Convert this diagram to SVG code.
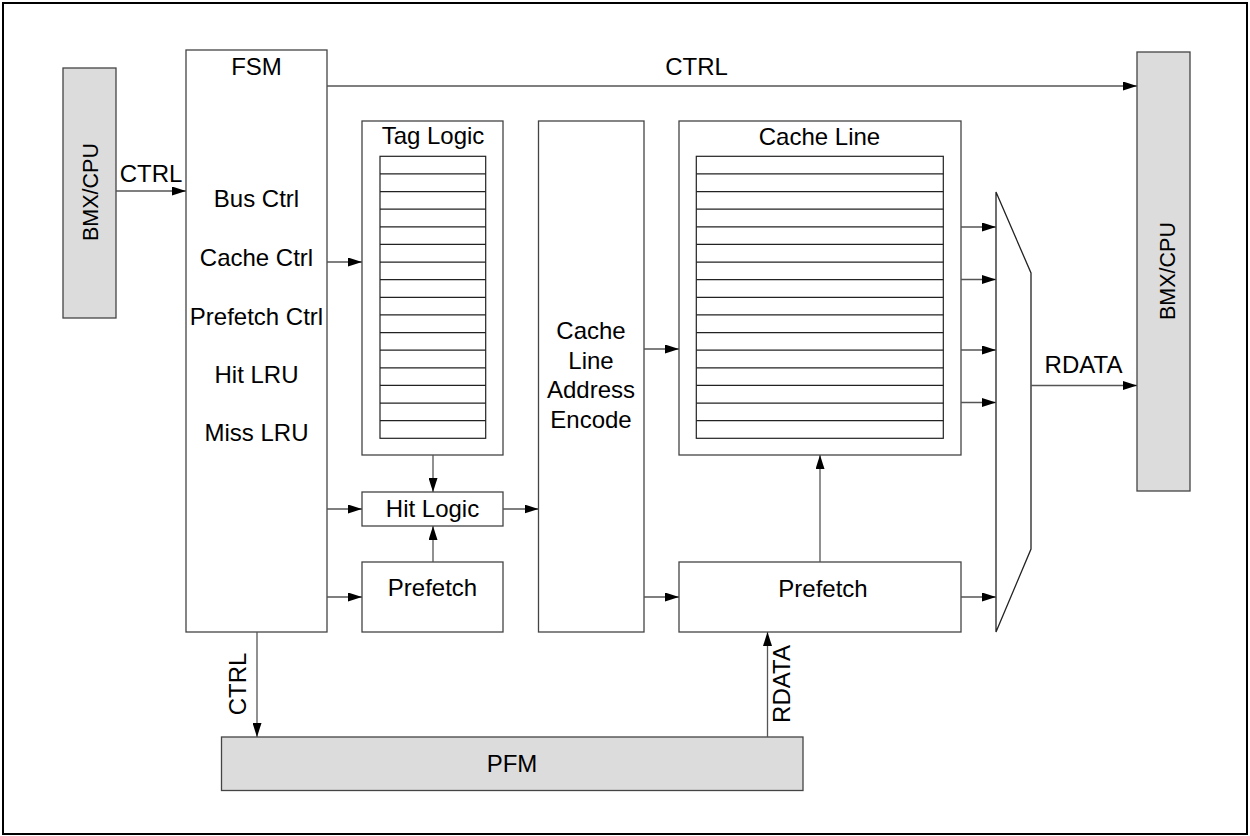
<svg xmlns="http://www.w3.org/2000/svg" width="1250" height="836" viewBox="0 0 1250 836">
<defs>
<marker id="arr" markerUnits="userSpaceOnUse" markerWidth="14" markerHeight="9" refX="14" refY="4.5" orient="auto">
<path d="M0,0 L14,4.5 L0,9 z" fill="#000"/>
</marker>
<style>
.box{fill:#fff;stroke:#444;stroke-width:1.3}
.gray{fill:#dcdcdc;stroke:#444;stroke-width:1.3}
.row{stroke:#222;stroke-width:1.2}
.tbl{fill:#fff;stroke:#222;stroke-width:1.2}
.t{font-family:"Liberation Sans",Arial,sans-serif;font-size:24px;fill:#000;text-anchor:middle}
.c{stroke:#555;stroke-width:1.3;fill:none;marker-end:url(#arr)}
</style>
</defs>
<rect x="3" y="3" width="1244" height="831" fill="#fff" stroke="#000" stroke-width="2"/>

<g id="bmx-left">
<rect class="gray" x="63" y="68" width="53" height="250"/>
<text class="t" style="font-size:21.5px" transform="translate(98,192) rotate(-90)">BMX/CPU</text>
</g>

<g id="fsm">
<rect class="box" x="186" y="50" width="141" height="582"/>
<text class="t" x="256.5" y="75">FSM</text>
<text class="t" x="256.5" y="207">Bus Ctrl</text>
<text class="t" x="256.5" y="266">Cache Ctrl</text>
<text class="t" x="256.5" y="325">Prefetch Ctrl</text>
<text class="t" x="256.5" y="383">Hit LRU</text>
<text class="t" x="256.5" y="441">Miss LRU</text>
</g>

<g id="tag-logic">
<rect class="box" x="362" y="121" width="141" height="334"/>
<text class="t" x="433" y="144">Tag Logic</text>
<rect class="tbl" x="380" y="156.3" width="105.7" height="282"/>
<g class="row">
<line x1="380" x2="485.7" y1="173.9" y2="173.9"/>
<line x1="380" x2="485.7" y1="191.6" y2="191.6"/>
<line x1="380" x2="485.7" y1="209.2" y2="209.2"/>
<line x1="380" x2="485.7" y1="226.8" y2="226.8"/>
<line x1="380" x2="485.7" y1="244.4" y2="244.4"/>
<line x1="380" x2="485.7" y1="262.1" y2="262.1"/>
<line x1="380" x2="485.7" y1="279.7" y2="279.7"/>
<line x1="380" x2="485.7" y1="297.3" y2="297.3"/>
<line x1="380" x2="485.7" y1="314.9" y2="314.9"/>
<line x1="380" x2="485.7" y1="332.6" y2="332.6"/>
<line x1="380" x2="485.7" y1="350.2" y2="350.2"/>
<line x1="380" x2="485.7" y1="367.8" y2="367.8"/>
<line x1="380" x2="485.7" y1="385.4" y2="385.4"/>
<line x1="380" x2="485.7" y1="403.1" y2="403.1"/>
<line x1="380" x2="485.7" y1="420.7" y2="420.7"/>
</g>
</g>

<g id="hit-logic">
<rect class="box" x="362" y="492" width="141" height="34"/>
<text class="t" x="432.5" y="517">Hit Logic</text>
</g>

<g id="prefetch-small">
<rect class="box" x="362" y="562" width="141" height="70"/>
<text class="t" x="432.5" y="596">Prefetch</text>
</g>

<g id="encode">
<rect class="box" x="538.5" y="121" width="105.5" height="511"/>
<text class="t" x="591" y="339">Cache</text>
<text class="t" x="591" y="368.5">Line</text>
<text class="t" x="591" y="398">Address</text>
<text class="t" x="591" y="427.5">Encode</text>
</g>

<g id="cache-line">
<rect class="box" x="679" y="121" width="282" height="334"/>
<text class="t" x="819.5" y="145">Cache Line</text>
<rect class="tbl" x="696.3" y="156.3" width="247" height="282"/>
<g class="row">
<line x1="696.3" x2="943.3" y1="173.9" y2="173.9"/>
<line x1="696.3" x2="943.3" y1="191.6" y2="191.6"/>
<line x1="696.3" x2="943.3" y1="209.2" y2="209.2"/>
<line x1="696.3" x2="943.3" y1="226.8" y2="226.8"/>
<line x1="696.3" x2="943.3" y1="244.4" y2="244.4"/>
<line x1="696.3" x2="943.3" y1="262.1" y2="262.1"/>
<line x1="696.3" x2="943.3" y1="279.7" y2="279.7"/>
<line x1="696.3" x2="943.3" y1="297.3" y2="297.3"/>
<line x1="696.3" x2="943.3" y1="314.9" y2="314.9"/>
<line x1="696.3" x2="943.3" y1="332.6" y2="332.6"/>
<line x1="696.3" x2="943.3" y1="350.2" y2="350.2"/>
<line x1="696.3" x2="943.3" y1="367.8" y2="367.8"/>
<line x1="696.3" x2="943.3" y1="385.4" y2="385.4"/>
<line x1="696.3" x2="943.3" y1="403.1" y2="403.1"/>
<line x1="696.3" x2="943.3" y1="420.7" y2="420.7"/>
</g>
</g>

<g id="prefetch-big">
<rect class="box" x="679" y="562" width="282" height="70"/>
<text class="t" x="823" y="597">Prefetch</text>
</g>

<g id="mux">
<polygon points="996,192 1031,273 1031,549 996,632" fill="#fff" stroke="#222" stroke-width="1.3"/>
</g>

<g id="bmx-right">
<rect class="gray" x="1137" y="52" width="53" height="439"/>
<text class="t" style="font-size:21.5px" transform="translate(1175,271) rotate(-90)">BMX/CPU</text>
</g>

<g id="pfm">
<rect class="gray" x="221.5" y="737" width="581.5" height="53.5"/>
<text class="t" x="512" y="772">PFM</text>
</g>

<g id="connectors">
<line class="c" x1="116" y1="191" x2="186" y2="191"/>
<line class="c" x1="327" y1="86" x2="1137" y2="86"/>
<line class="c" x1="327" y1="262" x2="362" y2="262"/>
<line class="c" x1="327" y1="509" x2="362" y2="509"/>
<line class="c" x1="327" y1="597" x2="362" y2="597"/>
<line class="c" x1="433" y1="455" x2="433" y2="492"/>
<line class="c" x1="433" y1="562" x2="433" y2="526"/>
<line class="c" x1="503" y1="509" x2="538.5" y2="509"/>
<line class="c" x1="644" y1="349" x2="679" y2="349"/>
<line class="c" x1="644" y1="597" x2="679" y2="597"/>
<line class="c" x1="820" y1="562" x2="820" y2="455"/>
<line class="c" x1="961" y1="227" x2="996" y2="227"/>
<line class="c" x1="961" y1="279.5" x2="996" y2="279.5"/>
<line class="c" x1="961" y1="350" x2="996" y2="350"/>
<line class="c" x1="961" y1="402.5" x2="996" y2="402.5"/>
<line class="c" x1="961" y1="597" x2="996" y2="597"/>
<line class="c" x1="1031" y1="385.5" x2="1137" y2="385.5"/>
<line class="c" x1="257" y1="632" x2="257" y2="737"/>
<line class="c" x1="767.5" y1="737" x2="767.5" y2="632"/>
<text class="t" x="151" y="182">CTRL</text>
<text class="t" x="696.5" y="75">CTRL</text>
<text class="t" x="1083.5" y="373">RDATA</text>
<text class="t" transform="translate(246,684) rotate(-90)">CTRL</text>
<text class="t" transform="translate(790,684) rotate(-90)">RDATA</text>
</g>
</svg>
